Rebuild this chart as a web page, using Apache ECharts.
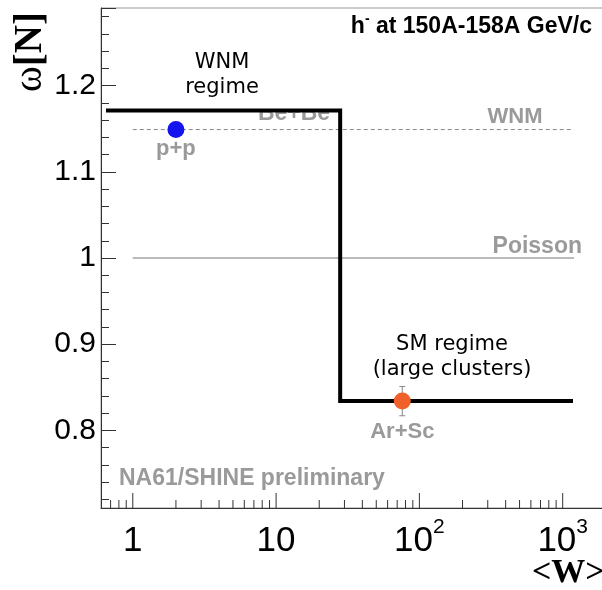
<!DOCTYPE html>
<html>
<head>
<meta charset="utf-8">
<script src="https://cdn.jsdelivr.net/npm/echarts@6/dist/echarts.min.js"></script>
<style>
html,body{margin:0;padding:0;background:#fff;}
#chart{width:602px;height:590px;}
</style>
</head>
<body>
<div id="chart"></div>
<script>
// ---- data ----
const stepW = [0.65, 28, 28, 1180];
const stepOmega = [1.171, 1.171, 0.834, 0.834];
const wnmLineW = [1, 1200];
const wnmLineOmega = [1.149, 1.149];
const poissonW = [1, 1200];
const poissonOmega = [1.0, 1.0];
const ppW = [2.0];
const ppOmega = [1.149];
const ppLabels = ['p+p'];
const arScW = [76];
const arScOmega = [0.834];
const arScErr = [0.017];
const arScLabels = ['Ar+Sc'];
const xMajorTickValues = [1, 10, 100, 1000];
const xTickLabels = ['1', '10', '10^2', '10^3'];
const xMinorTickValues = [0.7, 0.8, 0.9, 2, 3, 4, 5, 6, 7, 8, 9, 20, 30, 40, 50, 60, 70, 80, 90,
  200, 300, 400, 500, 600, 700, 800, 900, 2000, 3000, 4000, 5000, 6000, 7000, 8000, 9000];

const Y_MIN = 0.71, Y_MAX = 1.29, X_MIN = 0.6, X_MAX = 9230;

const zip = (a, b) => a.map((v, i) => [v, b[i]]);
const GRAY = '#9a9a9a';
const AX = '#333';

function tickSeries(name, values, len) {
  return {
    type: 'custom', name: name, z: 1, silent: true, clip: false,
    data: values.map(v => [v, Y_MIN]),
    encode: { x: 0, y: 1 },
    renderItem: function (params, api) {
      const p = api.coord([api.value(0), api.value(1)]);
      return { type: 'line', shape: { x1: p[0], y1: p[1], x2: p[0], y2: p[1] - len }, style: { stroke: AX, lineWidth: 1 } };
    }
  };
}

const chart = echarts.init(document.getElementById('chart'));
const option = {
  animation: false,
  grid: { left: 101, top: 8, width: 600, height: 500, containLabel: false, outerBoundsMode: 'none',
    show: true, borderColor: '#999', borderWidth: 1, backgroundColor: 'transparent' },
  xAxis: {
    type: 'log', logBase: 10, min: X_MIN, max: X_MAX,
    axisLine: { show: true, lineStyle: { color: AX, width: 1 } },
    axisTick: { show: false },
    minorTick: { show: false },
    splitLine: { show: false },
    axisLabel: {
      margin: 9, interval: 0, hideOverlap: false,
      formatter: function (v) {
        const i = xMajorTickValues.findIndex(t => Math.abs(t - v) / t < 1e-6);
        if (i < 0) return '';
        const parts = xTickLabels[i].split('^');
        return '{base|' + parts[0] + '}' + (parts[1] ? '{sup|' + parts[1] + '}' : '');
      },
      rich: {
        base: { fontSize: 35, fontFamily: 'Liberation Sans', color: '#000', lineHeight: 48 },
        sup: { fontSize: 21, fontFamily: 'Liberation Sans', color: '#000', lineHeight: 21, verticalAlign: 'top' }
      }
    }
  },
  yAxis: {
    type: 'value', min: Y_MIN, max: Y_MAX, splitNumber: 5,
    axisLine: { show: true, lineStyle: { color: AX, width: 1 } },
    axisTick: { show: true, inside: true, length: 15, lineStyle: { color: AX } },
    minorTick: { show: true, splitNumber: 5, length: 8, lineStyle: { color: AX } },
    splitLine: { show: false },
    axisLabel: {
      showMinLabel: false, showMaxLabel: false,
      margin: 5, fontSize: 30, fontFamily: 'Liberation Sans', color: '#000',
      padding: [6, 0, 0, 0]
    }
  },
  series: [
    tickSeries('xMinorTicks', xMinorTickValues, 8),
    tickSeries('xMajorTicks', xMajorTickValues, 15),
    {
      type: 'line', name: 'Poisson', z: 2, symbol: 'none', silent: true,
      data: zip(poissonW, poissonOmega),
      lineStyle: { color: '#777', width: 1 }
    },
    {
      type: 'line', name: 'WNM', z: 2, symbol: 'none', silent: true,
      data: zip(wnmLineW, wnmLineOmega),
      lineStyle: { color: '#888', width: 1, type: [4, 3] }
    },
    {
      type: 'line', name: 'step', z: 4, symbol: 'none', silent: true,
      data: zip(stepW, stepOmega),
      lineStyle: { color: '#000', width: 4, cap: 'butt', join: 'miter' }
    },
    {
      type: 'custom', name: 'ArScErr', z: 5, silent: true,
      data: arScW.map((w, i) => [w, arScOmega[i] - arScErr[i], arScOmega[i] + arScErr[i]]),
      encode: { x: 0, y: [1, 2] },
      renderItem: function (params, api) {
        const lo = api.coord([api.value(0), api.value(1)]);
        const hi = api.coord([api.value(0), api.value(2)]);
        const c = 3;
        const st = { stroke: '#888', lineWidth: 1 };
        return { type: 'group', children: [
          { type: 'line', shape: { x1: lo[0], y1: lo[1], x2: hi[0], y2: hi[1] }, style: st },
          { type: 'line', shape: { x1: lo[0] - c, y1: lo[1], x2: lo[0] + c, y2: lo[1] }, style: st },
          { type: 'line', shape: { x1: hi[0] - c, y1: hi[1], x2: hi[0] + c, y2: hi[1] }, style: st }
        ] };
      }
    },
    {
      type: 'scatter', name: 'p+p', z: 6, symbol: 'circle', symbolSize: 17,
      data: zip(ppW, ppOmega),
      itemStyle: { color: '#1414ee', opacity: 1 },
      label: { show: true, position: 'bottom', distance: 0, formatter: p => ppLabels[p.dataIndex],
        fontSize: 22, fontWeight: 'bold', fontFamily: 'Liberation Sans', color: GRAY }
    },
    {
      type: 'scatter', name: 'Ar+Sc', z: 6, symbol: 'circle', symbolSize: 17,
      data: zip(arScW, arScOmega),
      itemStyle: { color: '#f0602a', opacity: 1 },
      label: { show: true, position: 'bottom', distance: 11, formatter: p => arScLabels[p.dataIndex],
        fontSize: 22, fontWeight: 'bold', fontFamily: 'Liberation Sans', color: GRAY }
    }
  ],
  graphic: [
    { type: 'text', z: 1, x: 294, y: 114, style: { text: 'Be+Be', fontSize: 23, fontWeight: 'bold', fontFamily: 'Liberation Sans', fill: GRAY, align: 'center', verticalAlign: 'middle' } },
    { type: 'rect', z: 2, shape: { x: 250, y: 98, width: 90, height: 13 }, style: { fill: '#fff' } },
    { type: 'text', z: 10, x: 515, y: 117, style: { text: 'WNM', fontSize: 22, fontWeight: 'bold', fontFamily: 'Liberation Sans', fill: GRAY, align: 'center', verticalAlign: 'middle' } },
    { type: 'text', z: 10, x: 582, y: 247, style: { text: 'Poisson', fontSize: 23, fontWeight: 'bold', fontFamily: 'Liberation Sans', fill: GRAY, align: 'right', verticalAlign: 'middle' } },
    { type: 'text', z: 10, x: 119, y: 479, style: { text: 'NA61/SHINE preliminary', fontSize: 23, fontWeight: 'bold', fontFamily: 'Liberation Sans', fill: GRAY, align: 'left', verticalAlign: 'middle' } },
    { type: 'text', z: 10, x: 222, y: 75, style: { text: 'WNM\nregime', fontSize: 21, lineHeight: 25, fontFamily: 'DejaVu Sans', fill: '#000', align: 'center', verticalAlign: 'middle' } },
    { type: 'text', z: 10, x: 452, y: 357, style: { text: 'SM regime\n(large clusters)', fontSize: 21, lineHeight: 25.5, fontFamily: 'DejaVu Sans', fill: '#000', align: 'center', verticalAlign: 'middle' } },
    { type: 'text', z: 10, x: 592, y: 27, style: {
        text: '{b|h}{s|-}{b| at 150A-158A GeV/c}', align: 'right', verticalAlign: 'middle',
        rich: {
          b: { fontSize: 23, fontWeight: 'bold', fontFamily: 'Liberation Sans', fill: '#000', lineHeight: 30 },
          s: { fontSize: 14, fontWeight: 'bold', fontFamily: 'Liberation Sans', fill: '#000', lineHeight: 14, verticalAlign: 'top' }
        } } },
    { type: 'text', z: 10, x: 31, y: 52, rotation: Math.PI / 2, style: {
        text: '{w|ω}{n|[N]}', align: 'center', verticalAlign: 'middle',
        rich: {
          w: { fontSize: 39, fontFamily: 'Liberation Serif', fill: '#000' },
          n: { fontSize: 39, fontWeight: 'bold', fontFamily: 'Liberation Serif', fill: '#000' }
        } } },
    { type: 'text', z: 10, x: 532, y: 573, style: { text: '<W>', fontSize: 34, fontWeight: 'bold', fontFamily: 'Liberation Serif', fill: '#000', align: 'left', verticalAlign: 'middle' } }
  ]
};
chart.setOption(option);
</script>
</body>
</html>
